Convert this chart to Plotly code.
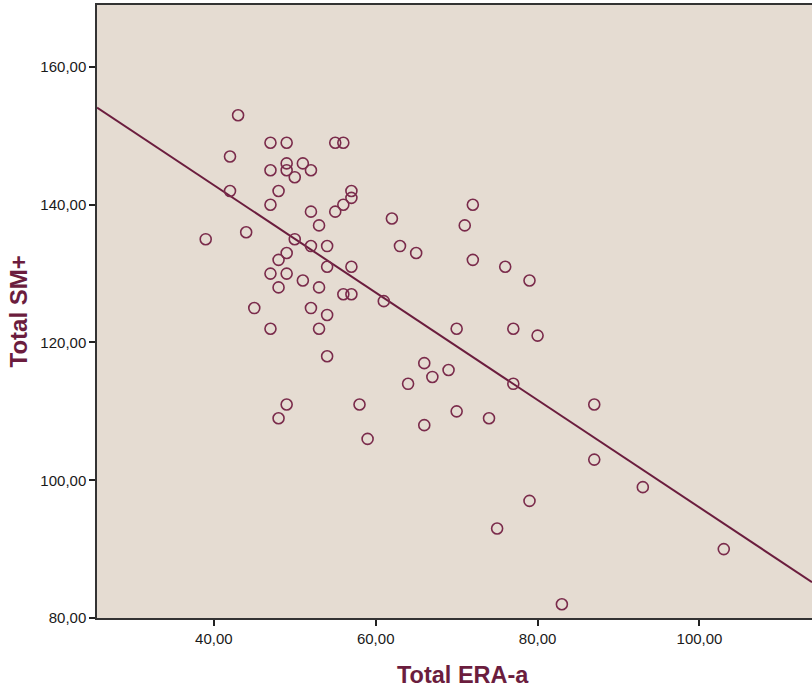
import plotly.graph_objects as go

era_a = [39, 42, 42, 43, 44, 45, 47, 47, 47, 47, 47, 48, 48, 48, 48,
         49, 49, 49, 49, 49, 49, 50, 50, 51, 51, 52, 52, 52, 52,
         53, 53, 53, 54, 54, 54, 54, 55, 55, 56, 56, 56, 57, 57, 57, 57,
         58, 59, 61, 62, 63, 64, 65, 66, 66, 67, 69, 70, 70, 71, 72, 72,
         74, 75, 76, 77, 77, 79, 79, 80, 83, 87, 87, 93, 103]
sm_plus = [135, 147, 142, 153, 136, 125, 149, 145, 140, 130, 122, 142, 132, 128, 109,
           149, 146, 145, 133, 130, 111, 144, 135, 146, 129, 145, 139, 134, 125,
           137, 128, 122, 134, 131, 124, 118, 149, 139, 149, 140, 127, 142, 141, 131, 127,
           111, 106, 126, 138, 134, 114, 133, 117, 108, 115, 116, 122, 110, 137, 140, 132,
           109, 93, 131, 122, 114, 129, 97, 121, 82, 111, 103, 99, 90]

# fit line (linear regression)
fit_slope = -0.780
fit_intercept = 174.05

x_tick_vals = [40, 60, 80, 100]
y_tick_vals = [80, 100, 120, 140, 160]
x_range = [25.57, 113.9]
y_range = [80, 169.0]

line_x = list(x_range)
line_y = [fit_intercept + fit_slope * v for v in line_x]

maroon = "#6b1d3e"
font_family = "Liberation Sans, Arial, sans-serif"

fig = go.Figure()
fig.add_trace(go.Scatter(
    x=line_x, y=line_y, mode="lines",
    line=dict(color=maroon, width=2), hoverinfo="skip", showlegend=False))
fig.add_trace(go.Scatter(
    x=era_a, y=sm_plus, mode="markers",
    marker=dict(symbol="circle-open", size=11, color="#7a2b4b", line=dict(width=1.6)),
    showlegend=False))

axis_common = dict(
    showgrid=False, zeroline=False, showline=True, linecolor="#333333", linewidth=1.5,
    ticks="outside", ticklen=6, tickwidth=1.5, tickcolor="#222222",
    tickformat=".2f", tickfont=dict(family=font_family, size=15, color="#1a1a1a"),
)

fig.update_layout(
    width=812, height=687,
    margin=dict(l=97, r=0, t=5, b=69),
    paper_bgcolor="white", plot_bgcolor="#e5dcd2",
    separators=", ",
    xaxis=dict(range=x_range, tickvals=x_tick_vals, mirror=True, **axis_common),
    yaxis=dict(range=y_range, tickvals=y_tick_vals, **axis_common),
    annotations=[
        dict(text="<b>Total ERA-a</b>", xref="paper", yref="paper", x=0.512, y=0,
             yshift=-57, xanchor="center", yanchor="middle", showarrow=False,
             font=dict(family=font_family, size=23.5, color=maroon)),
        dict(text="<b>Total SM+</b>", xref="paper", yref="paper", x=0, y=0.5,
             xshift=-79, xanchor="center", yanchor="middle", textangle=-90, showarrow=False,
             font=dict(family=font_family, size=24, color=maroon)),
    ],
)

fig.write_html("out.html", config={"displayModeBar": False},
               post_script="document.body.style.margin='0';document.body.style.overflow='hidden';")
